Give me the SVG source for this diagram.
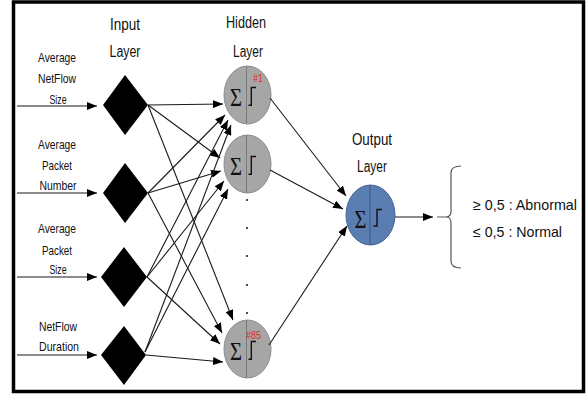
<svg xmlns="http://www.w3.org/2000/svg" width="587" height="394" viewBox="0 0 587 394">
<style>
.lbl{font-family:"Liberation Sans",Arial,sans-serif;font-size:13.5px;fill:#111;text-anchor:middle}
.hdr{font-family:"Liberation Sans",Arial,sans-serif;font-size:16px;fill:#111;text-anchor:middle}
.res{font-family:"Liberation Sans",Arial,sans-serif;font-size:14.5px;fill:#111}
.sig{font-family:"Liberation Serif","Times New Roman",serif;font-size:26px;fill:#111;text-anchor:middle}
.num{font-family:"Liberation Sans",Arial,sans-serif;font-size:11px;fill:#e3262b}
.hid{fill:#a6a6a6;stroke:#8c8c8c;stroke-width:1}
.out{fill:#5a7db2;stroke:#44659a;stroke-width:1}
.div{stroke:#7a7a7a;stroke-width:1}
.divo{stroke:#3c5686;stroke-width:1}
.step{fill:none;stroke:#111;stroke-width:1.4}
.con{stroke:#1a1a1a;stroke-width:1.1;fill:none;marker-end:url(#ah)}
</style>
<defs>
<marker id="ah" markerUnits="userSpaceOnUse" markerWidth="10" markerHeight="8" refX="10" refY="4" orient="auto">
<path d="M0,0 L10,4 L0,8 z" fill="#000"/>
</marker>
</defs>
<rect x="13.5" y="2" width="570" height="389.5" fill="#fff" stroke="#000" stroke-width="3.5"/>

<g id="headers">
<text class="hdr" x="125" y="30" textLength="30" lengthAdjust="spacingAndGlyphs">Input</text>
<text class="hdr" x="125" y="57" textLength="31" lengthAdjust="spacingAndGlyphs">Layer</text>
<text class="hdr" x="246" y="28" textLength="40" lengthAdjust="spacingAndGlyphs">Hidden</text>
<text class="hdr" x="248" y="57" textLength="30" lengthAdjust="spacingAndGlyphs">Layer</text>
<text class="hdr" x="372" y="145" textLength="40" lengthAdjust="spacingAndGlyphs">Output</text>
<text class="hdr" x="372" y="172" textLength="30" lengthAdjust="spacingAndGlyphs">Layer</text>
</g>

<g id="in1">
<text class="lbl" x="57" y="62" textLength="38" lengthAdjust="spacingAndGlyphs">Average</text>
<text class="lbl" x="57" y="83" textLength="38" lengthAdjust="spacingAndGlyphs">NetFlow</text>
<text class="lbl" x="58" y="104" textLength="17" lengthAdjust="spacingAndGlyphs">Size</text>
<polygon points="125,75 148,105 125,135 103,105" fill="#000"/>
</g>
<g id="in2">
<text class="lbl" x="57" y="149" textLength="38" lengthAdjust="spacingAndGlyphs">Average</text>
<text class="lbl" x="57" y="170" textLength="30" lengthAdjust="spacingAndGlyphs">Packet</text>
<text class="lbl" x="58" y="190" textLength="37" lengthAdjust="spacingAndGlyphs">Number</text>
<polygon points="125,163 148,193 125,223 103,193" fill="#000"/>
</g>
<g id="in3">
<text class="lbl" x="57" y="233" textLength="38" lengthAdjust="spacingAndGlyphs">Average</text>
<text class="lbl" x="57" y="255" textLength="30" lengthAdjust="spacingAndGlyphs">Packet</text>
<text class="lbl" x="58" y="274" textLength="17" lengthAdjust="spacingAndGlyphs">Size</text>
<polygon points="124,247 147,277 124,307 101,277" fill="#000"/>
</g>
<g id="in4">
<text class="lbl" x="58" y="331" textLength="38" lengthAdjust="spacingAndGlyphs">NetFlow</text>
<text class="lbl" x="59" y="351" textLength="40" lengthAdjust="spacingAndGlyphs">Duration</text>
<polygon points="124,326 146,355 124,385 101,355" fill="#000"/>
</g>

<g id="h1">
<ellipse class="hid" cx="247.5" cy="95" rx="23.5" ry="29"/>
<line class="div" x1="246.5" y1="66" x2="246.5" y2="124"/>
<text class="sig" x="236" y="106" textLength="12" lengthAdjust="spacingAndGlyphs">Σ</text>
<path class="step" d="M248.5,105.3 H251.3 V87.5 H256"/>
<text class="num" x="253" y="82" textLength="10" lengthAdjust="spacingAndGlyphs">#1</text>
</g>
<g id="h2">
<ellipse class="hid" cx="247.5" cy="164" rx="23.5" ry="29"/>
<line class="div" x1="246.5" y1="135" x2="246.5" y2="193"/>
<text class="sig" x="236" y="175" textLength="12" lengthAdjust="spacingAndGlyphs">Σ</text>
<path class="step" d="M248.5,174.3 H251.3 V156.5 H256"/>
</g>
<g id="dots" fill="#222">
<circle cx="247" cy="200" r="1.1"/>
<circle cx="247" cy="228" r="1.1"/>
<circle cx="247" cy="256" r="1.1"/>
<circle cx="247" cy="285" r="1.1"/>
<circle cx="247" cy="313" r="1.1"/>
</g>
<g id="h85">
<ellipse class="hid" cx="247.5" cy="349" rx="23.5" ry="29"/>
<line class="div" x1="246.5" y1="320" x2="246.5" y2="378"/>
<text class="sig" x="236" y="360" textLength="12" lengthAdjust="spacingAndGlyphs">Σ</text>
<path class="step" d="M248.5,359.3 H251.3 V341.5 H256"/>
<text class="num" x="246" y="339" textLength="15" lengthAdjust="spacingAndGlyphs">#85</text>
</g>
<g id="out">
<ellipse class="out" cx="370.5" cy="215" rx="24.5" ry="30"/>
<line class="divo" x1="370" y1="185" x2="370" y2="245"/>
<text class="sig" x="360.5" y="228" textLength="12" lengthAdjust="spacingAndGlyphs">Σ</text>
<path class="step" d="M373.5,226 H377 V209.5 H382"/>
</g>

<g id="result">
<path d="M461,166 Q451,166 451,173 V211 Q451,217 446,217 H437 M446,217 Q451,217 451,223 V261 Q451,268 461,268" fill="none" stroke="#595959" stroke-width="1.2"/>
<text class="res" x="473" y="210" textLength="104" lengthAdjust="spacingAndGlyphs">≥ 0,5 : Abnormal</text>
<text class="res" x="473" y="237" textLength="89" lengthAdjust="spacingAndGlyphs">≤ 0,5 : Normal</text>
</g>

<g id="connectors">
<line class="con" x1="17" y1="106" x2="97" y2="106"/>
<line class="con" x1="17" y1="193" x2="97" y2="193"/>
<line class="con" x1="17" y1="277" x2="97" y2="277"/>
<line class="con" x1="17" y1="355" x2="97" y2="355"/>

<line class="con" x1="148" y1="105" x2="223" y2="104"/>
<line class="con" x1="148" y1="105" x2="220" y2="158"/>
<line class="con" x1="148" y1="105" x2="233" y2="320"/>

<line class="con" x1="148" y1="193" x2="225" y2="115"/>
<line class="con" x1="148" y1="193" x2="221" y2="171"/>
<line class="con" x1="148" y1="193" x2="222" y2="333"/>

<line class="con" x1="147" y1="277" x2="228" y2="120"/>
<line class="con" x1="147" y1="277" x2="224" y2="181"/>
<line class="con" x1="147" y1="277" x2="220" y2="344"/>

<line class="con" x1="145" y1="352" x2="231" y2="125"/>
<line class="con" x1="145" y1="352" x2="228" y2="189"/>
<line class="con" x1="146" y1="355" x2="223" y2="362"/>

<line class="con" x1="270" y1="98" x2="346" y2="196"/>
<line class="con" x1="270" y1="170" x2="343" y2="209"/>
<line class="con" x1="269" y1="345" x2="347" y2="226"/>

<line class="con" x1="395" y1="217" x2="433" y2="217"/>
</g>
</svg>
